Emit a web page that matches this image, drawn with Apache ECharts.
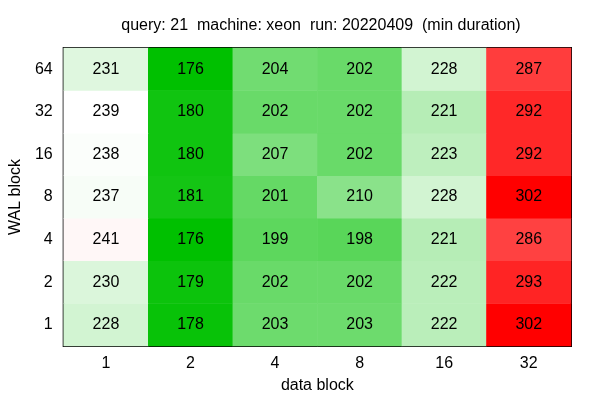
<!DOCTYPE html>
<html><head><meta charset="utf-8">
<script src="https://cdn.jsdelivr.net/npm/echarts@6/dist/echarts.min.js"></script>
<style>html,body{margin:0;padding:0;background:#fff}#c{width:600px;height:400px}</style>
</head><body><div id="c"></div>
<script>
const xCats = ['1','2','4','8','16','32'];
const yCats = ['1','2','4','8','16','32','64'];
// rows by WAL block (bottom to top), columns by data block
const row1  = [228,178,203,203,222,302];
const row2  = [230,179,202,202,222,293];
const row4  = [241,176,199,198,221,286];
const row8  = [237,181,201,210,228,302];
const row16 = [238,180,207,202,223,292];
const row32 = [239,180,202,202,221,292];
const row64 = [231,176,204,202,228,287];
const rows = [row1,row2,row4,row8,row16,row32,row64];
const data = [];
rows.forEach((r,yi)=>r.forEach((v,xi)=>data.push([xi,yi,v])));
const font = 'Liberation Sans, Arial, sans-serif';
const chart = echarts.init(document.getElementById('c'), null, {renderer:'canvas'});
chart.setOption({
  animation:false,
  title:{text:'query: 21  machine: xeon  run: 20220409  (min duration)',left:316,top:13,textAlign:'center',
    textStyle:{fontFamily:font,fontSize:16,fontWeight:'normal',color:'#000'}},
  grid:{left:62,right:29,top:48,bottom:54,show:true,borderColor:'#000',borderWidth:2,backgroundColor:'transparent'},
  xAxis:{type:'category',data:xCats,name:'data block',nameLocation:'middle',nameGap:32,
    nameTextStyle:{fontFamily:font,fontSize:16,color:'#000'},
    axisLine:{show:false},axisTick:{show:false},splitLine:{show:false},
    axisLabel:{fontFamily:font,fontSize:16,color:'#000',margin:10}},
  yAxis:{type:'category',data:yCats,name:'WAL block',nameLocation:'middle',nameGap:38,
    nameTextStyle:{fontFamily:font,fontSize:16,color:'#000'},
    axisLine:{show:false},axisTick:{show:false},splitLine:{show:false},
    axisLabel:{fontFamily:font,fontSize:16,color:'#000',margin:11}},
  visualMap:{show:false,type:'continuous',min:176,max:302,dimension:2,
    inRange:{color:['#00c000','#ffffff','#ff0000']}},
  series:[{type:'heatmap',data:data,
    label:{show:true,fontFamily:font,fontSize:16,color:'#000'},
    itemStyle:{borderWidth:0},
    emphasis:{disabled:true}}]
});
</script></body></html>
